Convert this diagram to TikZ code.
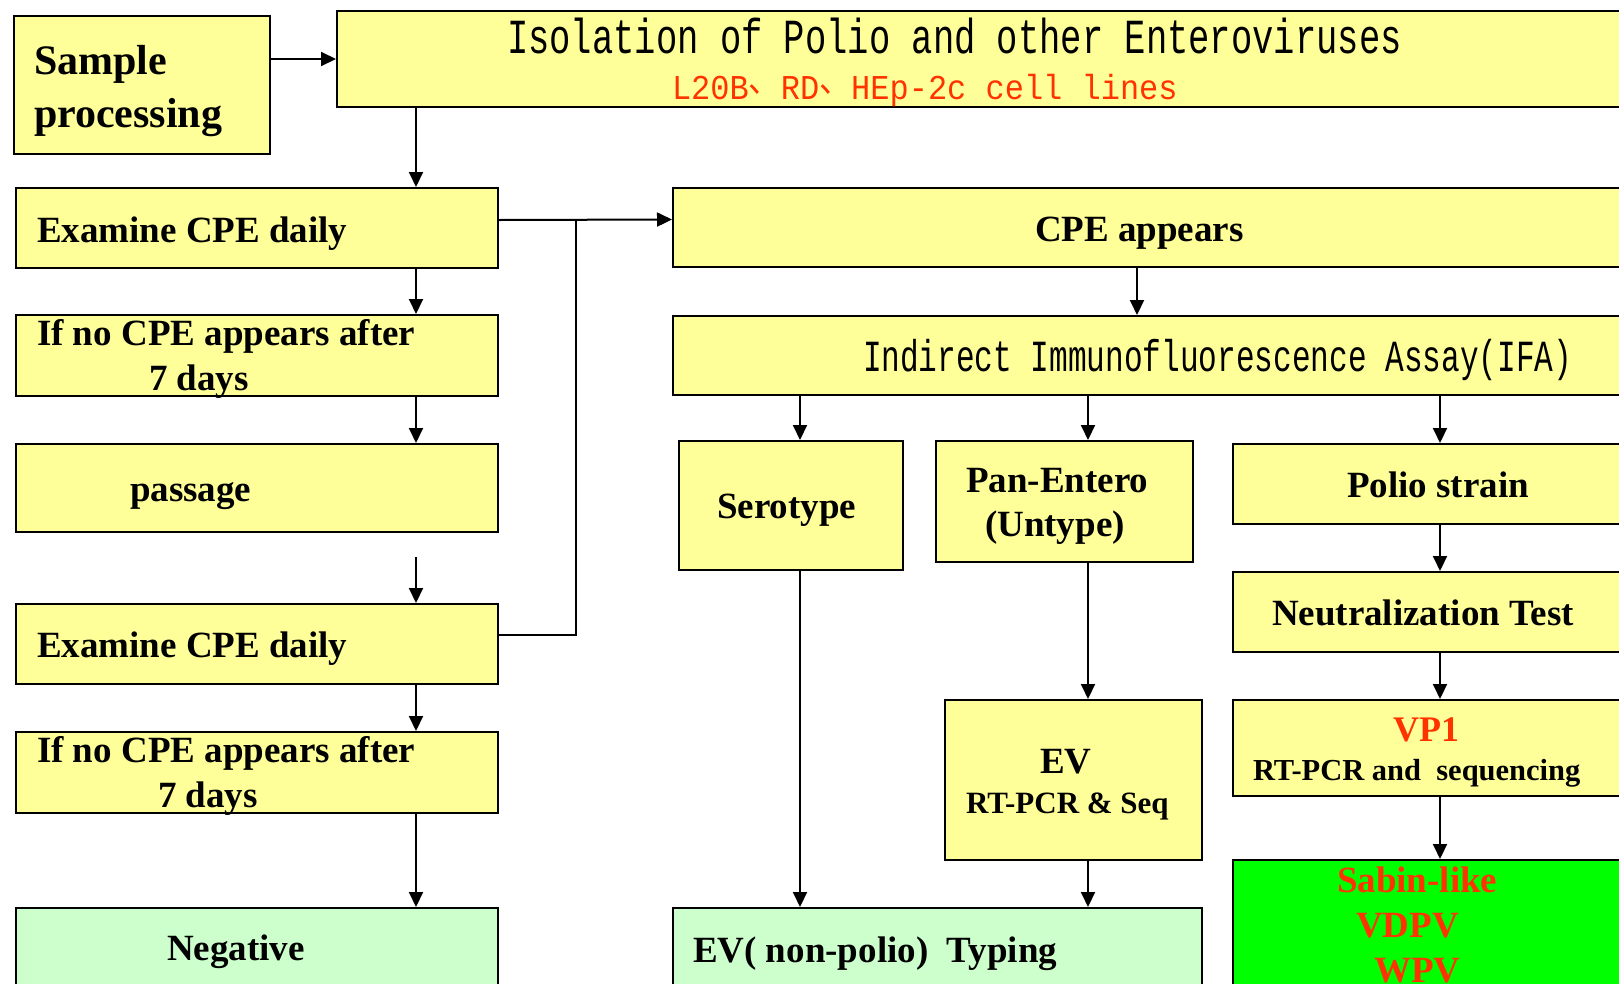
\documentclass[tikz,border=0pt]{standalone}
\usepackage{fontspec}
\setmainfont{Liberation Serif}
\newfontfamily\monofont{Liberation Mono}
\newfontfamily\cjkfont{Noto Sans CJK SC}
\usetikzlibrary{arrows.meta}

\definecolor{boxyellow}{HTML}{FFFF99}
\definecolor{palegreen}{HTML}{CCFFCC}
\definecolor{brightgreen}{HTML}{00FF00}
\definecolor{textred}{HTML}{FF3300}

\tikzset{
  stage/.style={draw, line width=2pt, fill=boxyellow, anchor=north west, inner sep=0pt},
  result/.style={stage, fill=palegreen},
  strain/.style={stage, fill=brightgreen},
  lbl/.style={font=\bfseries\fontsize{37}{44}\selectfont, inner sep=0pt, anchor=base west},
  biglbl/.style={lbl, font=\bfseries\fontsize{42}{48}\selectfont},
  smalllbl/.style={lbl, font=\bfseries\fontsize{31}{36}\selectfont},
  mono/.style={inner sep=0pt, anchor=base west}
}

\begin{document}
\begin{tikzpicture}[x=1pt, y=-1pt, line width=2pt, >={Triangle[length=15pt,width=14pt]}]
  \useasboundingbox (0,0) rectangle (1619,983);
  \fill[white] (0,0) rectangle (1619,983);
  \clip (0,0) rectangle (1619,983);

  % boxes, left column
  \node[stage, minimum width=256pt, minimum height=138pt] (samp) at (13,15) {};
  \node[stage, minimum width=482pt, minimum height=80pt] (exam1) at (15,187) {};
  \node[stage, minimum width=482pt, minimum height=81pt] (noc1) at (15,314) {};
  \node[stage, minimum width=482pt, minimum height=88pt] (pass) at (15,443) {};
  \node[stage, minimum width=482pt, minimum height=80pt] (exam2) at (15,603) {};
  \node[stage, minimum width=482pt, minimum height=81pt] (noc2) at (15,731) {};
  \node[result, minimum width=482pt, minimum height=120pt] (neg) at (15,907) {};
  % boxes, right part (cut at the page edge)
  \node[stage, minimum width=1330pt, minimum height=96pt] (iso) at (336,10) {};
  \node[stage, minimum width=990pt, minimum height=79pt] (cpe) at (672,187) {};
  \node[stage, minimum width=990pt, minimum height=79pt] (ifa) at (672,315) {};
  \node[stage, minimum width=224pt, minimum height=129pt] (sero) at (678,440) {};
  \node[stage, minimum width=257pt, minimum height=121pt] (pan) at (935,440) {};
  \node[stage, minimum width=430pt, minimum height=80pt] (polio) at (1232,443) {};
  \node[stage, minimum width=430pt, minimum height=80pt] (neut) at (1232,571) {};
  \node[stage, minimum width=257pt, minimum height=160pt] (ev) at (944,699) {};
  \node[stage, minimum width=430pt, minimum height=96pt] (vp1) at (1232,699) {};
  \node[result, minimum width=529pt, minimum height=120pt] (evtyp) at (672,907) {};
  \node[strain, minimum width=430pt, minimum height=170pt] (sabin) at (1232,859) {};

  % columns of the arrows
  \coordinate (lcol) at (416,0);
  \coordinate (cA) at (800,0);
  \coordinate (cB) at (1088,0);
  \coordinate (cC) at (1440,0);
  \coordinate (cM) at (1137,0);
  \coordinate (jn) at (576,219);   % where the loop back meets

  \draw[->] (samp.east |- iso.west) -- (iso.west);
  \draw[->] (iso.south -| lcol) -- (exam1.north -| lcol);
  \draw[->] (exam1.south -| lcol) -- (noc1.north -| lcol);
  \draw[->] (noc1.south -| lcol) -- (pass.north -| lcol);
  \draw[->, shorten <=24pt] (pass.south -| lcol) -- (exam2.north -| lcol);
  \draw[->] (exam2.south -| lcol) -- (noc2.north -| lcol);
  \draw[->] (noc2.south -| lcol) -- (neg.north -| lcol);
  \draw[->] ([yshift=8pt]exam1.east) -- ([yshift=8pt]cpe.west);
  \draw ([yshift=9pt]exam2.east) -| (jn);
  \draw[->] (cpe.south -| cM) -- (ifa.north -| cM);
  \draw[->] (ifa.south -| cA) -- (sero.north -| cA);
  \draw[->] (ifa.south -| cB) -- (pan.north -| cB);
  \draw[->] (ifa.south -| cC) -- (polio.north -| cC);
  \draw[->] (polio.south -| cC) -- (neut.north -| cC);
  \draw[->] (neut.south -| cC) -- (vp1.north -| cC);
  \draw[->] (vp1.south -| cC) -- (sabin.north -| cC);
  \draw[->] (pan.south -| cB) -- (ev.north -| cB);
  \draw[->] (ev.south -| cB) -- (evtyp.north -| cB);
  \draw[->] (sero.south -| cA) -- (evtyp.north -| cA);

  % texts
  \node[mono] (isot1) at (506,53) {\monofont\fontsize{35.5}{40}\selectfont\scalebox{1}[1.38]{Isolation of Polio and other Enteroviruses}};
  \node[mono, text=textred] (isot2) at (671,99) {\fontsize{32}{36}\selectfont\scalebox{1}[1.09]{\monofont L20B{\cjkfont\raisebox{0.2em}{、}}RD{\cjkfont\raisebox{0.2em}{、}}HEp-2c cell lines}};
  \node[mono] (ifat) at (862,371) {\monofont\fontsize{31.1}{36}\selectfont\scalebox{1}[1.43]{Indirect Immunofluorescence Assay(IFA)}};
  \node[biglbl] (sampt1) at (33,74) {Sample};
  \node[biglbl] (sampt2) at (33,127) {processing};
  \node[lbl] (examt1) at (36,242) {Examine CPE daily};
  \node[lbl] (noct1a) at (36,345) {If no CPE appears after};
  \node[lbl] (noct1b) at (148,390) {7 days};
  \node[lbl] (passt) at (129,501) {passage};
  \node[lbl] (examt2) at (36,657) {Examine CPE daily};
  \node[lbl] (noct2a) at (36,762) {If no CPE appears after};
  \node[lbl] (noct2b) at (157,807) {7 days};
  \node[lbl] (negt) at (166,960) {Negative};
  \node[lbl] (cpet) at (1034,241) {CPE appears};
  \node[lbl] (serot) at (716,518) {Serotype};
  \node[lbl] (pant1) at (965,492) {Pan-Entero};
  \node[lbl] (pant2) at (984,536) {(Untype)};
  \node[lbl] (poliot) at (1346,497) {Polio strain};
  \node[lbl] (neutt) at (1271,625) {Neutralization Test};
  \node[lbl] (evt1) at (1039,773) {EV};
  \node[smalllbl] (evt2) at (965,813) {RT-PCR \& Seq};
  \node[lbl, font=\bfseries\fontsize{36}{40}\selectfont, text=textred] (vp1t1) at (1392,741) {VP1};
  \node[smalllbl, font=\bfseries\fontsize{30.5}{36}\selectfont] (vp1t2) at (1252,780) {RT-PCR and\ \ sequencing};
  \node[lbl] (evtypt) at (692,962) {EV( non-polio)\ \ Typing};
  \node[lbl, text=textred] (sabt1) at (1336,892) {Sabin-like};
  \node[lbl, text=textred] (sabt2) at (1355,937) {VDPV};
  \node[lbl, text=textred] (sabt3) at (1373,982) {WPV};
\end{tikzpicture}
\end{document}
